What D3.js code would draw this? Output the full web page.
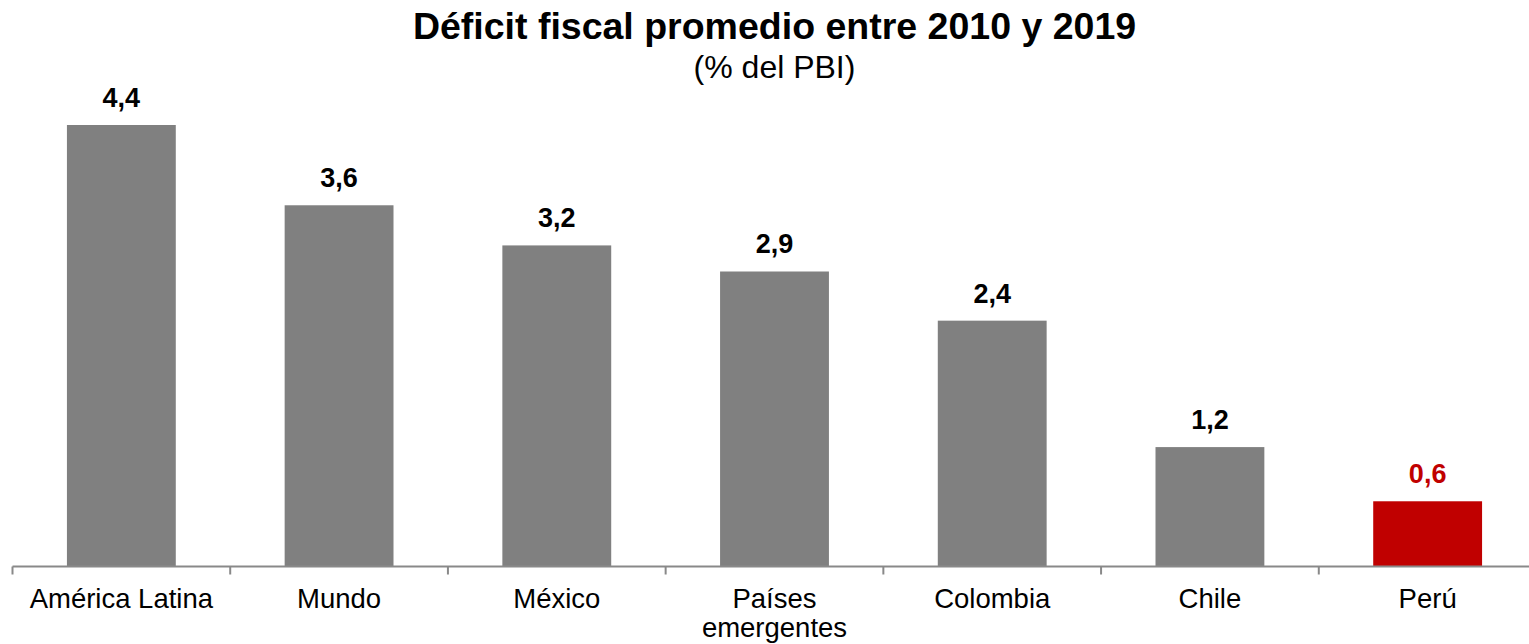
<!DOCTYPE html>
<meta charset="utf-8">
<script src="https://cdn.jsdelivr.net/npm/d3@7"></script>
<style>
  body { margin: 0; background: #fff; }
  text { font-family: "Liberation Sans", Arial, sans-serif; fill: #000; }
  .axis path, .axis line { stroke: #898989; stroke-width: 2px; }
</style>
<body>
<script>
  // data
  var categories = ["América Latina", "Mundo", "México", "Países\nemergentes", "Colombia", "Chile", "Perú"];
  var values = [4.4, 3.6, 3.2, 2.94, 2.45, 1.19, 0.65];
  var valueLabels = ["4,4", "3,6", "3,2", "2,9", "2,4", "1,2", "0,6"];
  var barColors = ["#808080", "#808080", "#808080", "#808080", "#808080", "#808080", "#c00000"];

  var width = 1529, height = 644;
  var left = 12.5, right = 1536.5, baseline = 566.5;

  var svg = d3.select("body").append("svg")
    .attr("width", width)
    .attr("height", height);

  var x = d3.scaleBand()
    .domain(categories)
    .range([left, right])
    .paddingInner(0.5)
    .paddingOuter(0.25);

  var y = d3.scaleLinear()
    .domain([0, 4.4])
    .range([baseline, 125]);

  // bars
  svg.append("g")
    .selectAll("rect")
    .data(values)
    .enter().append("rect")
    .attr("x", function (d, i) { return x(categories[i]); })
    .attr("y", function (d) { return y(d); })
    .attr("width", x.bandwidth())
    .attr("height", function (d) { return baseline - y(d); })
    .style("fill", function (d, i) { return barColors[i]; });

  // value labels
  svg.append("g")
    .selectAll("text")
    .data(values)
    .enter().append("text")
    .attr("x", function (d, i) { return x(categories[i]) + x.bandwidth() / 2; })
    .attr("y", function (d) { return y(d) - 18; })
    .attr("text-anchor", "middle")
    .style("font-size", "27px")
    .style("font-weight", 700)
    .style("fill", function (d, i) { return i == 6 ? "#c00000" : "#000"; })
    .text(function (d, i) { return valueLabels[i]; });

  // axis line with ticks at category boundaries
  var step = x.step();
  var boundaries = d3.range(categories.length + 1).map(function (i) { return left + i * step; });
  var ax = svg.append("g").attr("class", "axis");
  ax.append("path")
    .attr("d", "M" + left + "," + baseline + "H" + right)
    .style("fill", "none");
  ax.selectAll("line")
    .data(boundaries)
    .enter().append("line")
    .attr("x1", function (d) { return d; })
    .attr("x2", function (d) { return d; })
    .attr("y1", baseline)
    .attr("y2", baseline + 8);

  // category labels
  var cat = svg.append("g")
    .selectAll("text")
    .data(categories)
    .enter().append("text")
    .attr("x", function (d) { return x(d) + x.bandwidth() / 2; })
    .attr("y", 608)
    .attr("text-anchor", "middle")
    .style("font-size", "27.5px");
  cat.each(function (d) {
    var t = d3.select(this);
    d.split("\n").forEach(function (line, j) {
      t.append("tspan")
        .attr("x", t.attr("x"))
        .attr("dy", j == 0 ? 0 : 29)
        .text(line);
    });
  });

  // title
  var cx = (left + right) / 2;
  svg.append("text")
    .attr("x", cx)
    .attr("y", 39)
    .attr("text-anchor", "middle")
    .style("font-size", "37.5px")
    .style("font-weight", 700)
    .text("Déficit fiscal promedio entre 2010 y 2019");

  svg.append("text")
    .attr("x", cx)
    .attr("y", 78)
    .attr("text-anchor", "middle")
    .style("font-size", "32px")
    .text("(% del PBI)");
</script>
</body>
